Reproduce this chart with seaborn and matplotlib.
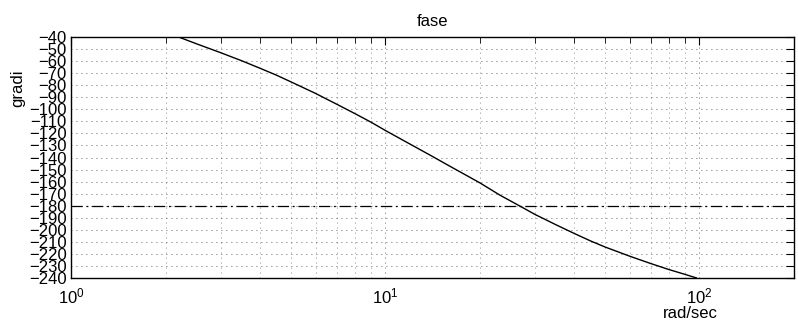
import numpy as np
import pandas as pd
import matplotlib
matplotlib.use("Agg")
import matplotlib.pyplot as plt
import seaborn as sns
from matplotlib.ticker import LogLocator, FixedLocator, NullFormatter

# data
omega = [2.2, 2.5, 3, 3.5, 4, 4.5, 5, 6, 7, 8, 9, 10, 12, 14, 16, 20, 23.2, 26.7,
         30, 35, 40, 45, 50, 60, 70, 80, 90, 98]
phase = [-40, -45.5, -53.1, -59.8, -66, -71.6, -77.1, -86.8, -95.7, -103.5, -110.6,
         -117.5, -128.9, -138.5, -147, -161, -171.3, -180, -187.3, -195.9, -203.1,
         -209.2, -214.2, -221.9, -228, -233, -237, -240]
ref_level = -180
y_ticks = list(range(-240, -39, 10))
title_text = "fase"
ylabel_text = "gradi"
xlabel_text = "rad/sec"

sns.set_style("white")
plt.rcParams['font.family'] = ['Liberation Sans', 'DejaVu Sans']
plt.rcParams['mathtext.fontset'] = 'custom'
plt.rcParams['mathtext.rm'] = 'Liberation Sans'
plt.rcParams['mathtext.it'] = 'Liberation Sans'
plt.rcParams['text.color'] = 'black'
plt.rcParams['axes.labelcolor'] = 'black'
plt.rcParams['xtick.color'] = 'black'
plt.rcParams['ytick.color'] = 'black'

fig = plt.figure(figsize=(7.98, 3.22), dpi=100)
ax = fig.add_axes([71/798, 1-278/322, (794-71)/798, (278-37)/322])

df = pd.DataFrame({"w": omega, "phase": phase})
sns.lineplot(data=df, x="w", y="phase", ax=ax, color="black", lw=1.0)
ax.axhline(ref_level, color="black", lw=0.9, ls=(0, (9, 3, 1.5, 3)))

ax.set_xscale("log")
ax.set_xlim(1, 200)
ax.set_ylim(-240, -40)
ax.set_yticks(y_ticks)
ax.xaxis.set_major_locator(FixedLocator([1, 10, 100]))
ax.xaxis.set_minor_locator(LogLocator(base=10, subs=np.arange(2, 10), numticks=20))
ax.xaxis.set_minor_formatter(NullFormatter())

ax.grid(True, which="major", axis="both", color="black", ls=(0, (1, 5)), lw=0.6, alpha=0.8)
ax.grid(True, which="minor", axis="x", color="black", ls=(0, (1, 5)), lw=0.6, alpha=0.6)

ax.tick_params(which="major", direction="in", top=True, right=True, length=6, width=0.8,
               labelsize=12, pad=3, color="black", labelcolor="black")
ax.tick_params(which="minor", direction="in", top=True, right=False, length=4, width=0.6,
               color="black")
ax.tick_params(axis="x", which="major", pad=6)
ax.tick_params(axis="y", which="minor", left=False, right=False)
for s in ax.spines.values():
    s.set_color("black")
    s.set_linewidth(1.0)

ax.set_title(title_text, fontsize=12, pad=8, color="black")
ax.set_ylabel("")
ax.set_xlabel("")
fig.text(18/798, 1-88/322, ylabel_text, ha="center", va="center", rotation=90,
         fontsize=12, color="black")
fig.text(690/798, 1-313/322, xlabel_text, ha="center", va="center", fontsize=12,
         color="black")

fig.savefig("out.png", dpi=100, facecolor="white")
